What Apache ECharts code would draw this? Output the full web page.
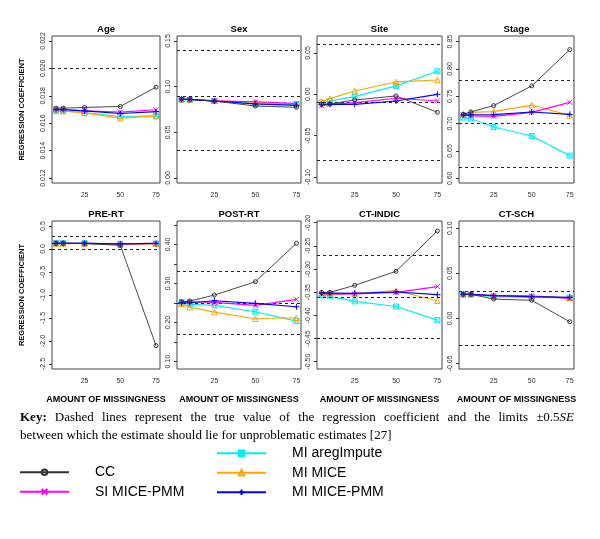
<!DOCTYPE html>
<html><head><meta charset="utf-8">
<script src="https://cdn.jsdelivr.net/npm/echarts@6/dist/echarts.min.js"></script>
<style>html,body{margin:0;padding:0;background:#fff}#c{width:600px;height:539px}</style>
</head><body><div id="c"></div>
<script>
// ---------------- DATA ----------------
const missingness = [5, 10, 25, 50, 75];
const xTickLabels = ['25', '50', '75'];
const panelNames = ['Age', 'Sex', 'Site', 'Stage', 'PRE-RT', 'POST-RT', 'CT-INDIC', 'CT-SCH'];
const methodNames = ['CC', 'SI MICE-PMM', 'MI aregImpute', 'MI MICE', 'MI MICE-PMM'];

const ageCC   = [0.01710, 0.01710, 0.01715, 0.01722, 0.01863];
const ageSI   = [0.01702, 0.01702, 0.01690, 0.01681, 0.01698];
const ageAreg = [0.01693, 0.01690, 0.01678, 0.01649, 0.01654];
const ageMICE = [0.01690, 0.01688, 0.01676, 0.01637, 0.01651];
const agePMM  = [0.01698, 0.01698, 0.01690, 0.01671, 0.01685];
const ageTruth = [0.0201, 0.01732, 0.01445];
const ageTicks = ['0.012', '0.014', '0.016', '0.018', '0.020', '0.022'];

const sexCC   = [0.0862, 0.0860, 0.0843, 0.0788, 0.0774];
const sexSI   = [0.0862, 0.0860, 0.0845, 0.0835, 0.0818];
const sexAreg = [0.0858, 0.0858, 0.0843, 0.0812, 0.0805];
const sexMICE = [0.0862, 0.0860, 0.0846, 0.0830, 0.0810];
const sexPMM  = [0.0862, 0.0860, 0.0842, 0.0812, 0.0796];
const sexTruth = [0.142, 0.0869, 0.0314];
const sexTicks = ['0.00', '0.05', '0.10', '0.15'];

const siteCC   = [-0.0121, -0.0117, -0.0069, -0.0020, -0.0218];
const siteSI   = [-0.0137, -0.0121, -0.0101, -0.0048, -0.0081];
const siteAreg = [-0.0101, -0.0081, -0.0028, 0.0101, 0.0278];
const siteMICE = [-0.0089, -0.0052, 0.0040, 0.0149, 0.0173];
const sitePMM  = [-0.0125, -0.0121, -0.0121, -0.0081, 0.0000];
const siteTruth = [0.0577, -0.0121, -0.0835];
const siteTicks = ['-0.10', '-0.05', '0.00', '0.05'];

const stageCC   = [0.7171, 0.7214, 0.7330, 0.7690, 0.8354];
const stageSI   = [0.7160, 0.7140, 0.7134, 0.7207, 0.7390];
const stageAreg = [0.7110, 0.7090, 0.6939, 0.6774, 0.6415];
const stageMICE = [0.7170, 0.7207, 0.7220, 0.7340, 0.7150];
const stagePMM  = [0.7160, 0.7160, 0.7165, 0.7213, 0.7170];
const stageTruth = [0.7848, 0.7037, 0.6238];
const stageTicks = ['0.60', '0.65', '0.70', '0.75', '0.80', '0.85'];

const preCC   = [0.124, 0.124, 0.120, 0.080, -2.100];
const preSI   = [0.124, 0.124, 0.124, 0.110, 0.124];
const preAreg = [0.128, 0.128, 0.126, 0.110, 0.118];
const preMICE = [0.118, 0.118, 0.116, 0.095, 0.112];
const prePMM  = [0.124, 0.124, 0.122, 0.112, 0.122];
const preTruth = [0.268, 0.131, -0.006];
const preTicks = ['-2.5', '-2.0', '-1.5', '-1.0', '-0.5', '0.0', '0.5'];

const postCC   = [0.2532, 0.2550, 0.2703, 0.3044, 0.4026];
const postSI   = [0.2532, 0.2532, 0.2515, 0.2440, 0.2594];
const postAreg = [0.2507, 0.2465, 0.2440, 0.2276, 0.2038];
const postMICE = [0.2480, 0.2396, 0.2268, 0.2097, 0.2123];
const postPMM  = [0.2507, 0.2507, 0.2558, 0.2490, 0.2404];
const postTruth = [0.3317, 0.2517, 0.170];
const postTicks = ['0.10', '0.15', '0.20', '0.25', '0.30', '0.35', '0.40', '0.45'];
const postTickLabels = ['0.10', '0.20', '0.30', '0.40'];

const indicCC   = [-0.3505, -0.3505, -0.3353, -0.3050, -0.2180];
const indicSI   = [-0.3540, -0.3530, -0.3540, -0.3505, -0.3380];
const indicAreg = [-0.3570, -0.3592, -0.3700, -0.3810, -0.4104];
const indicMICE = [-0.3555, -0.3555, -0.3530, -0.3469, -0.3686];
const indicPMM  = [-0.3519, -0.3519, -0.3525, -0.3497, -0.3555];
const indicTruth = [-0.2724, -0.3592, -0.446];
const indicTicks = ['-0.50', '-0.45', '-0.40', '-0.35', '-0.30', '-0.25', '-0.20'];

const schCC   = [0.0267, 0.0267, 0.0214, 0.0200, -0.0038];
const schSI   = [0.0267, 0.0267, 0.0251, 0.0248, 0.0222];
const schAreg = [0.0264, 0.0264, 0.0240, 0.0233, 0.0230];
const schMICE = [0.0267, 0.0267, 0.0253, 0.0248, 0.0228];
const schPMM  = [0.0267, 0.0267, 0.0251, 0.0240, 0.0233];
const schTruth = [0.0822, 0.0278, -0.0271];
const schTicks = ['-0.05', '0.00', '0.05', '0.10'];

const keyWords1 = ['Key:', 'Dashed', 'lines', 'represent', 'the', 'true', 'value', 'of', 'the',
  'regression', 'coefficient', 'and', 'the', 'limits'];
const keyLine2 = 'between which the estimate should lie for unproblematic estimates [27]';

// ---------------- LAYOUT / STYLE ----------------
const panelData = [
  [ageCC, ageSI, ageAreg, ageMICE, agePMM],
  [sexCC, sexSI, sexAreg, sexMICE, sexPMM],
  [siteCC, siteSI, siteAreg, siteMICE, sitePMM],
  [stageCC, stageSI, stageAreg, stageMICE, stagePMM],
  [preCC, preSI, preAreg, preMICE, prePMM],
  [postCC, postSI, postAreg, postMICE, postPMM],
  [indicCC, indicSI, indicAreg, indicMICE, indicPMM],
  [schCC, schSI, schAreg, schMICE, schPMM]
];
const panelTruth = [ageTruth, sexTruth, siteTruth, stageTruth, preTruth, postTruth, indicTruth, schTruth];
const panelTicks = [ageTicks, sexTicks, siteTicks, stageTicks, preTicks, postTicks, indicTicks, schTicks];
const panelLabels = [ageTicks, sexTicks, siteTicks, stageTicks, preTicks, postTickLabels, indicTicks, schTicks];
const panelRange = [
  [0.01164, 0.02236], [-0.0055, 0.1555], [-0.1073, 0.0705], [0.5914, 0.8603],
  [-2.609, 0.609], [0.0813, 0.4596], [-0.516, -0.1963], [-0.0563, 0.1081]
];
const colLeft = [52, 177, 317, 459];
const colWidth = [108, 124, 125, 115];
const rowTop = [36, 221];
const rowHeight = [147, 148];

const X_PATH = 'path://M0,0L10,10M10,0L0,10';
const PLUS_PATH = 'path://M5,0L5,10M0,5L10,5';
const BOXX_PATH = 'path://M0,0L10,0L10,10L0,10Z M0,0L10,10M10,0L0,10';
const methodStyle = {
  'CC':            {color: '#333333', symbol: 'circle',        size: 4,  width: 0.9, fill: 'none'},
  'SI MICE-PMM':   {color: '#ff00ff', symbol: X_PATH,          size: 5,  width: 1.2, fill: 'none'},
  'MI aregImpute': {color: '#00f0f0', symbol: BOXX_PATH,       size: 5,  width: 1.2, fill: 'none'},
  'MI MICE':       {color: '#ffa500', symbol: 'triangle',      size: 5.5,width: 1.2, fill: 'none'},
  'MI MICE-PMM':   {color: '#0000ff', symbol: PLUS_PATH,       size: 6,  width: 1.2, fill: 'none'}
};
const drawOrder = [2, 3, 1, 4, 0];

const SANS = '"Liberation Sans", Arial, sans-serif';
const SERIF = '"Liberation Serif", "Times New Roman", serif';

const grids = [], xAxes = [], yAxes = [], titles = [], series = [];
panelNames.forEach((name, i) => {
  const row = Math.floor(i / 4), col = i % 4;
  grids.push({left: colLeft[col], top: rowTop[row], width: colWidth[col], height: rowHeight[row],
    show: true, borderColor: '#444', borderWidth: 1, backgroundColor: 'transparent',
    containLabel: false, outerBoundsMode: 'none'});
  titles.push({text: name, left: colLeft[col] + colWidth[col] / 2, top: rowTop[row] - 12,
    textAlign: 'center', padding: 0,
    textStyle: {fontSize: 9.5, fontWeight: 'bold', fontFamily: SANS, color: '#000'}});
  xAxes.push({gridIndex: i, type: 'value', min: 2.2, max: 77.8,
    splitLine: {show: false}, axisLine: {show: false}, axisTick: {show: false},
    axisLabel: {customValues: xTickLabels.map(Number), fontSize: 7, color: '#333', margin: 9,
      fontFamily: SANS, formatter: v => xTickLabels.find(s => Number(s) === v) || ''},
    name: row === 1 ? 'AMOUNT OF MISSINGNESS' : '', nameLocation: 'middle', nameGap: 26,
    nameTextStyle: {fontSize: 9, fontWeight: 'bold', fontFamily: SANS, color: '#000'}});
  const labs = panelLabels[i];
  yAxes.push({gridIndex: i, type: 'value', min: panelRange[i][0], max: panelRange[i][1],
    splitLine: {show: false}, axisLine: {show: false},
    axisTick: {show: true, length: 3, customValues: panelTicks[i].map(Number), lineStyle: {color: '#333'}},
    axisLabel: {customValues: labs.map(Number), rotate: 90, fontSize: 7, color: '#333', margin: 5,
      fontFamily: SANS, formatter: v => labs.find(s => Math.abs(Number(s) - v) < 1e-9) || ''},
    name: col === 0 ? 'REGRESSION COEFFICIENT' : '', nameLocation: 'middle', nameGap: 26, nameRotate: 90,
    nameTextStyle: {fontSize: 7.5, fontWeight: 'bold', fontFamily: SANS, color: '#000'}});
  drawOrder.forEach((m, k) => {
    const mName = methodNames[m];
    const st = methodStyle[mName];
    const s = {
      name: mName, type: 'line', xAxisIndex: i, yAxisIndex: i,
      data: missingness.map((x, j) => [x, panelData[i][m][j]]),
      symbol: st.symbol, symbolSize: st.size, showSymbol: true,
      lineStyle: {color: st.color, width: st.width},
      itemStyle: {color: st.fill, borderColor: st.color, borderWidth: 1},
      emphasis: {disabled: true}, z: 3 + k
    };
    if (k === 0) {
      s.markLine = {silent: true, symbol: ['none', 'none'], label: {show: false},
        lineStyle: {type: [3, 3], color: '#222', width: 1}, animation: false,
        data: panelTruth[i].map(v => ({yAxis: v}))};
    }
    series.push(s);
  });
});

// key paragraph (justified first line)
const ctx = document.createElement('canvas').getContext('2d');
const FS = 13;
const fontReg = FS + 'px ' + SERIF, fontBold = 'bold ' + FS + 'px ' + SERIF, fontIt = 'italic ' + FS + 'px ' + SERIF;
const meas = (t, f) => { ctx.font = f; return ctx.measureText(t).width; };
const graphics = [];
const lineL = 20, lineR = 574, y1 = 418, y2 = 436;
const w1 = keyWords1.map((w, i) => meas(w, i === 0 ? fontBold : fontReg));
const lastW = meas('\u00b10.5', fontReg) + meas('SE', fontIt);
const totalW = w1.reduce((a, b) => a + b, 0) + lastW;
const gap = (lineR - lineL - totalW) / keyWords1.length;
let cx = lineL;
keyWords1.forEach((w, i) => {
  graphics.push({type: 'text', x: cx, y: y1, style: {text: w, font: i === 0 ? fontBold : fontReg,
    fill: '#000', align: 'left', verticalAlign: 'middle'}});
  cx += w1[i] + gap;
});
graphics.push({type: 'text', x: cx, y: y1, style: {text: '\u00b10.5', font: fontReg, fill: '#000', align: 'left', verticalAlign: 'middle'}});
cx += meas('\u00b10.5', fontReg);
graphics.push({type: 'text', x: cx, y: y1, style: {text: 'SE', font: fontIt, fill: '#000', align: 'left', verticalAlign: 'middle'}});
graphics.push({type: 'text', x: lineL, y: y2, style: {text: keyLine2, font: fontReg, fill: '#000', align: 'left', verticalAlign: 'middle'}});

const legendCommon = {orient: 'vertical', itemWidth: 49, itemHeight: 7, itemGap: 5, padding: 0,
  selectedMode: false, inactiveColor: '#000',
  textStyle: {fontSize: 14, fontFamily: SANS, color: '#000', lineHeight: 14.5, padding: [0, 0, 0, 21]}};

const option = {
  animation: false,
  backgroundColor: '#fff',
  title: titles,
  grid: grids,
  xAxis: xAxes,
  yAxis: yAxes,
  legend: [
    Object.assign({}, legendCommon, {data: ['CC', 'SI MICE-PMM'], left: 19, top: 465}),
    Object.assign({}, legendCommon, {data: ['MI aregImpute', 'MI MICE', 'MI MICE-PMM'], left: 216, top: 446})
  ],
  graphic: graphics,
  series: series
};
const chart = echarts.init(document.getElementById('c'), null, {renderer: 'canvas'});
chart.setOption(option);
</script></body></html>
